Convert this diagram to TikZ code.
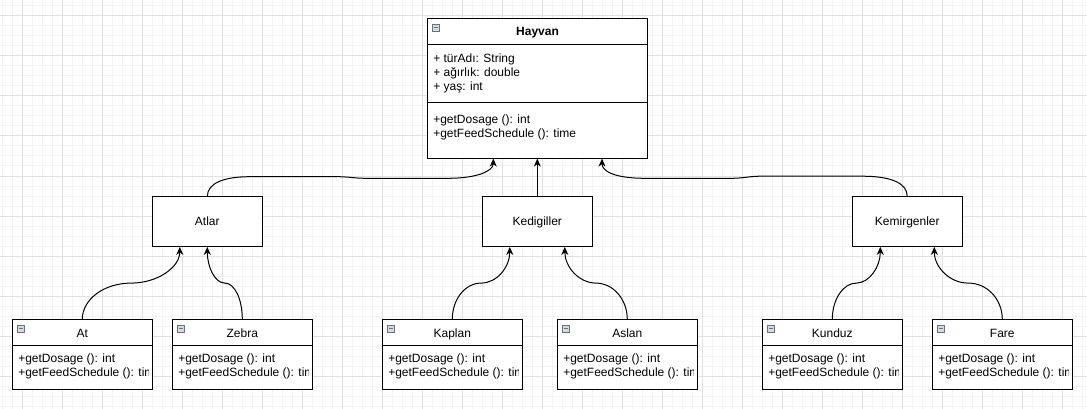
\documentclass[tikz,border=0pt]{standalone}
\usepackage{fontspec}
\setmainfont{Liberation Sans}
\usetikzlibrary{arrows.meta,calc}
\definecolor{gridmajor}{RGB}{225,225,225}
\definecolor{gridminor}{RGB}{243,243,243}
\definecolor{iconfill}{RGB}{214,219,226}
\definecolor{iconline}{RGB}{105,115,128}
\tikzset{
  classbox/.style={draw=black, fill=white, line width=1pt, inner sep=0pt, outer sep=0pt, anchor=north west},
  lbl/.style={inner sep=0pt, outer sep=0pt, font=\fontsize{12}{14}\selectfont, text=black},
  hdr/.style={lbl, anchor=base},
  mem/.style={lbl, anchor=base west},
  divider/.style={draw=black, line width=1pt},
  genarrow/.style={draw=black, line width=1pt, -{Stealth[length=8pt,width=7pt,inset=2.5pt]}},
  iconbox/.style={draw=iconline, fill=iconfill, line width=0.7pt, inner sep=0pt, outer sep=0pt, minimum size=7pt, anchor=north west},
  gridmin/.style={draw=gridminor, line width=1pt},
  gridmaj/.style={draw=gridmajor, line width=1pt},
}
\newcommand\collapseicon[2]{%
  \node[iconbox] (#1) at ($(#2.north west)+(5.5,6)$) {};
  \draw[iconline, line width=0.9pt] ($(#1.west)+(1.5,0)$) -- ($(#1.east)+(-1.5,0)$);
}
\newcommand\smallclass[3]{%
  \node[classbox, minimum width=140pt, minimum height=70pt] (#1) at (#2,319.3) {};
  \draw[divider] ($(#1.north west)+(0,26.2)$) -- ($(#1.north east)+(0,26.2)$);
  \collapseicon{#1-icon}{#1}
  \node[hdr] (#1-title) at ($(#1.north)+(0,17.7)$) {#3};
  \begin{scope}
    \clip ($(#1.north west)+(1,27)$) rectangle ($(#1.south east)+(-4.3,-1)$);
    \node[mem] (#1-m1) at ($(#1.north west)+(6,43.3)$) {+getDosage (): int};
    \node[mem] (#1-m2) at ($(#1.north west)+(6,57.5)$) {+getFeedSchedule (): time};
  \end{scope}
}
\newcommand\groupbox[3]{%
  \node[classbox, minimum width=110pt, minimum height=49.8pt] (#1) at (#2,196.6) {};
  \node[hdr] (#1-label) at ($(#1.center)+(0,4.3)$) {#3};
}
\begin{document}
\begin{tikzpicture}[x=1pt,y=-1pt]
\fill[white] (0,0) rectangle (1087,409);
\useasboundingbox (0,0) rectangle (1087,409);
% grid
\foreach \gx in {2.3,12.3,...,1086} \draw[gridmin] (\gx,0) -- (\gx,409);
\foreach \gy in {6,16,...,408} \draw[gridmin] (0,\gy) -- (1087,\gy);
\foreach \gx in {22.3,62.3,...,1086} \draw[gridmaj] (\gx,0) -- (\gx,409);
\foreach \gy in {16,56,...,408} \draw[gridmaj] (0,\gy) -- (1087,\gy);

% Hayvan
\node[classbox, minimum width=220.5pt, minimum height=139.8pt] (hayvan) at (427.3,18.3) {};
\draw[divider] ($(hayvan.north west)+(0,26)$) -- ($(hayvan.north east)+(0,26)$);
\draw[divider] ($(hayvan.north west)+(0,84)$) -- ($(hayvan.north east)+(0,84)$);
\collapseicon{hayvan-icon}{hayvan}
\node[hdr, font=\fontsize{12}{14}\selectfont\bfseries] (hayvan-title) at ($(hayvan.north)+(0,17.4)$) {Hayvan};
\node[mem] (hayvan-a1) at ($(hayvan.north west)+(6,44)$) {+ türAdı: String};
\node[mem] (hayvan-a2) at ($(hayvan.north west)+(6,58)$) {+ ağırlık: double};
\node[mem] (hayvan-a3) at ($(hayvan.north west)+(6,72)$) {+ yaş: int};
\node[mem] (hayvan-m1) at ($(hayvan.north west)+(6,105.3)$) {+getDosage (): int};
\node[mem] (hayvan-m2) at ($(hayvan.north west)+(6,119.3)$) {+getFeedSchedule (): time};

% groups
\groupbox{atlar}{152.3}{Atlar}
\groupbox{kedigiller}{482.3}{Kedigiller}
\groupbox{kemirgenler}{852.3}{Kemirgenler}

% leaves
\smallclass{at}{12.3}{At}
\smallclass{zebra}{172.3}{Zebra}
\smallclass{kaplan}{382.3}{Kaplan}
\smallclass{aslan}{557.3}{Aslan}
\smallclass{kunduz}{762.3}{Kunduz}
\smallclass{fare}{932.3}{Fare}

% arrow targets
\coordinate (hayA) at ($(hayvan.south west)+(66,0.5)$);
\coordinate (hayK) at ($(hayvan.south west)+(110,0.5)$);
\coordinate (hayR) at ($(hayvan.south west)+(174.7,0.5)$);
\coordinate (atlarL) at ($(atlar.south)+(-27.5,0.5)$);
\coordinate (atlarR) at ($(atlar.south)+(0,0.5)$);
\coordinate (kedL) at ($(kedigiller.south)+(-27.5,0.5)$);
\coordinate (kedR) at ($(kedigiller.south)+(27.5,0.5)$);
\coordinate (kemL) at ($(kemirgenler.south)+(-27,0.5)$);
\coordinate (kemR) at ($(kemirgenler.south)+(27,0.5)$);

% group -> Hayvan
\draw[genarrow] (atlar.north) .. controls +(0,-14) and +(-25,0) .. (250,176.7) -- (338,176.7)
  .. controls (348,176.7) and (355,178.3) .. (366,178.3) -- (448,178.3)
  .. controls +(30,0) and +(0,12) .. (hayA);
\draw[genarrow] (kedigiller.north) -- (hayK);
\draw[genarrow] (kemirgenler.north) .. controls +(0,-14) and +(28,0) .. (862,176.2) -- (760,176.2)
  .. controls (750,176.2) and (743,178.3) .. (732,178.3) -- (645,178.3)
  .. controls +(-32,0) and +(0,12) .. (hayR);

% leaves -> groups
\draw[genarrow] (at.north) .. controls +(0,-20) and +(-27,0) .. ($(at.north)!0.5!(atlarL)$) .. controls +(27,0) and +(0,20) .. (atlarL);
\draw[genarrow] (zebra.north) .. controls +(0,-20) and +(10,0) .. ($(zebra.north)!0.5!(atlarR)$) .. controls +(-10,0) and +(0,20) .. (atlarR);
\draw[genarrow] (kaplan.north) .. controls +(0,-20) and +(-16,0) .. ($(kaplan.north)!0.5!(kedL)$) .. controls +(16,0) and +(0,20) .. (kedL);
\draw[genarrow] (aslan.north) .. controls +(0,-20) and +(17,0) .. ($(aslan.north)!0.5!(kedR)$) .. controls +(-17,0) and +(0,20) .. (kedR);
\draw[genarrow] (kunduz.north) .. controls +(0,-20) and +(-13,0) .. ($(kunduz.north)!0.5!(kemL)$) .. controls +(13,0) and +(0,20) .. (kemL);
\draw[genarrow] (fare.north) .. controls +(0,-20) and +(19,0) .. ($(fare.north)!0.5!(kemR)$) .. controls +(-19,0) and +(0,20) .. (kemR);
\end{tikzpicture}
\end{document}
